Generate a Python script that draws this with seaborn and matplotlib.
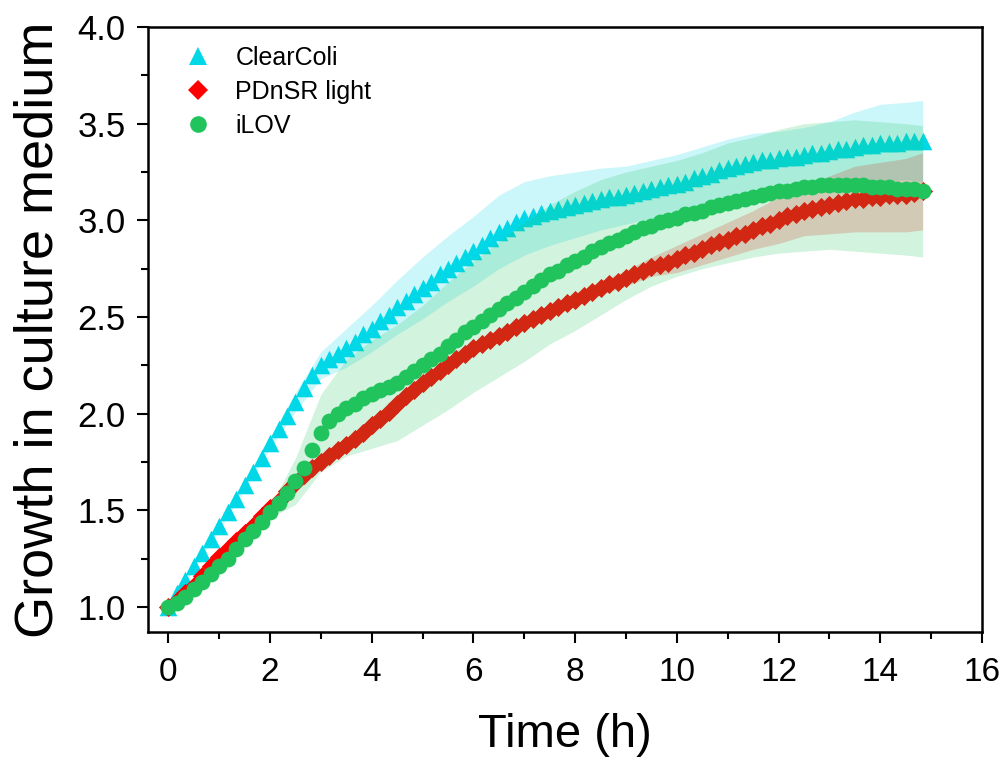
import numpy as np
import pandas as pd
import matplotlib
matplotlib.use("Agg")
import matplotlib.pyplot as plt
from matplotlib.lines import Line2D
from matplotlib.ticker import MultipleLocator
import seaborn as sns

sns.set_theme(style="ticks")
plt.rcParams["font.family"] = ["Liberation Sans", "DejaVu Sans"]
plt.rcParams["text.color"] = "black"
plt.rcParams["axes.labelcolor"] = "black"
plt.rcParams["xtick.color"] = "black"
plt.rcParams["ytick.color"] = "black"

# --- Data: readings every 10 min, 0 to 14.83 h ---
time_h = np.arange(90) / 6.0

clearcoli = [
    1.00, 1.07, 1.14, 1.21, 1.28, 1.35, 1.42, 1.49, 1.56, 1.63,
    1.70, 1.77, 1.85, 1.92, 1.99, 2.06, 2.13, 2.20, 2.25, 2.28,
    2.31, 2.34, 2.37, 2.41, 2.44, 2.48, 2.51, 2.55, 2.58, 2.62,
    2.65, 2.68, 2.72, 2.75, 2.78, 2.81, 2.84, 2.87, 2.91, 2.94,
    2.96, 2.99, 3.01, 3.02, 3.04, 3.05, 3.06, 3.07, 3.08, 3.09,
    3.10, 3.11, 3.12, 3.12, 3.13, 3.14, 3.15, 3.16, 3.17, 3.18,
    3.19, 3.20, 3.22, 3.23, 3.24, 3.26, 3.27, 3.28, 3.29, 3.30,
    3.31, 3.31, 3.32, 3.33, 3.33, 3.34, 3.35, 3.35, 3.36, 3.37,
    3.37, 3.38, 3.39, 3.39, 3.40, 3.40, 3.40, 3.41, 3.41, 3.41,
]
pdnsr = [
    1.00, 1.03, 1.07, 1.11, 1.16, 1.21, 1.26, 1.30, 1.34, 1.38,
    1.42, 1.47, 1.51, 1.55, 1.60, 1.64, 1.68, 1.72, 1.75, 1.78,
    1.81, 1.84, 1.87, 1.90, 1.94, 1.97, 2.01, 2.05, 2.09, 2.12,
    2.16, 2.19, 2.22, 2.25, 2.28, 2.31, 2.34, 2.36, 2.38, 2.40,
    2.42, 2.45, 2.47, 2.49, 2.51, 2.53, 2.55, 2.57, 2.59, 2.61,
    2.63, 2.65, 2.67, 2.68, 2.70, 2.72, 2.74, 2.76, 2.77, 2.78,
    2.80, 2.82, 2.83, 2.85, 2.87, 2.89, 2.90, 2.92, 2.93, 2.95,
    2.97, 2.98, 3.00, 3.02, 3.03, 3.05, 3.06, 3.07, 3.08, 3.09,
    3.10, 3.11, 3.11, 3.12, 3.12, 3.13, 3.13, 3.13, 3.14, 3.15,
]
ilov = [
    1.00, 1.02, 1.05, 1.09, 1.13, 1.17, 1.21, 1.25, 1.30, 1.35,
    1.39, 1.44, 1.49, 1.54, 1.59, 1.65, 1.72, 1.81, 1.90, 1.96,
    2.00, 2.03, 2.05, 2.08, 2.10, 2.12, 2.14, 2.16, 2.19, 2.22,
    2.25, 2.28, 2.31, 2.35, 2.38, 2.42, 2.45, 2.48, 2.51, 2.54,
    2.57, 2.60, 2.63, 2.66, 2.69, 2.72, 2.74, 2.77, 2.79, 2.81,
    2.84, 2.86, 2.88, 2.90, 2.92, 2.94, 2.96, 2.97, 2.99, 3.00,
    3.01, 3.03, 3.04, 3.05, 3.07, 3.08, 3.09, 3.10, 3.11, 3.12,
    3.13, 3.14, 3.15, 3.15, 3.16, 3.17, 3.17, 3.18, 3.18, 3.18,
    3.18, 3.18, 3.18, 3.17, 3.17, 3.17, 3.16, 3.16, 3.16, 3.15,
]

# standard deviation, read every 0.5 h (0 ... 14.5) plus the last reading
band_idx = list(range(0, 90, 3)) + [89]
clearcoli_sd = [
    0.01, 0.015, 0.02, 0.025, 0.03, 0.05, 0.07, 0.10, 0.12, 0.14,
    0.16, 0.17, 0.18, 0.19, 0.19, 0.18, 0.17, 0.16, 0.15, 0.15,
    0.15, 0.15, 0.15, 0.15, 0.14, 0.14, 0.15, 0.18, 0.20, 0.20, 0.21,
]
pdnsr_sd = [
    0.005, 0.01, 0.01, 0.015, 0.015, 0.02, 0.02, 0.025, 0.03, 0.03,
    0.03, 0.03, 0.03, 0.03, 0.03, 0.03, 0.035, 0.035, 0.04, 0.05,
    0.07, 0.08, 0.09, 0.10, 0.12, 0.13, 0.15, 0.17, 0.18, 0.19, 0.20,
]
ilov_sd = [
    0.01, 0.01, 0.015, 0.02, 0.03, 0.12, 0.20, 0.25, 0.28, 0.30,
    0.31, 0.33, 0.34, 0.35, 0.36, 0.36, 0.36, 0.35, 0.33, 0.31,
    0.30, 0.30, 0.31, 0.31, 0.32, 0.33, 0.33, 0.34, 0.34, 0.34, 0.34,
]

series = [
    ("ClearColi", clearcoli, clearcoli_sd, "#00d8e8", "^", 160),
    ("PDnSR light", pdnsr, pdnsr_sd, "#ff0000", "D", 95),
    ("iLOV", ilov, ilov_sd, "#21c45c", "o", 130),
]

fig = plt.figure(figsize=(10.08, 7.67), dpi=100)
ax = fig.add_axes([0.1468, 0.176, 0.8274, 0.7888])

z = 2
for name, mean, sd, color, marker, size in series:
    df = pd.DataFrame({"Time": time_h, "Growth": mean})
    sns.scatterplot(data=df, x="Time", y="Growth", marker=marker, s=size,
                    color=color, linewidth=0, ax=ax, zorder=z, legend=False)
    m = np.asarray(mean)[band_idx]
    s = np.asarray(sd)
    ax.fill_between(time_h[band_idx], m - s, m + s, color=color, alpha=0.2,
                    linewidth=0, zorder=z + 1)
    z += 2

ax.set_xlim(-0.4, 16)
ax.set_ylim(0.87, 4.0)
ax.xaxis.set_major_locator(MultipleLocator(2))
ax.xaxis.set_minor_locator(MultipleLocator(1))
ax.yaxis.set_major_locator(MultipleLocator(0.5))
ax.yaxis.set_minor_locator(MultipleLocator(0.25))
ax.yaxis.set_major_formatter(matplotlib.ticker.FormatStrFormatter("%.1f"))
ax.tick_params(axis="both", which="major", direction="out", length=8, width=1.5,
               color="black", top=False, right=False)
ax.tick_params(axis="both", which="minor", direction="out", length=5, width=1.5,
               color="black", top=False, right=False)
ax.tick_params(axis="x", labelsize=24, pad=10)
ax.tick_params(axis="y", labelsize=25, pad=8)
for sp in ax.spines.values():
    sp.set_visible(True)
    sp.set_linewidth(1.8)
    sp.set_color("black")

ax.set_xlabel("Time (h)", fontsize=34, labelpad=18)
ax.set_ylabel("Growth in culture medium", fontsize=39, labelpad=10)

handles = [Line2D([], [], linestyle="none", marker=mk, color=c, markersize=ms,
                  markeredgewidth=0)
           for (_, _, _, c, mk, _), ms in zip(series, [13, 10, 12])]
ax.legend(handles, [s[0] for s in series], loc="upper left",
          bbox_to_anchor=(0.03, 0.985), borderaxespad=0, frameon=False,
          fontsize=18, handlelength=1.2, handletextpad=0.9, labelspacing=0.4)

plt.savefig("out.png", dpi=100, facecolor="white")
plt.close()
